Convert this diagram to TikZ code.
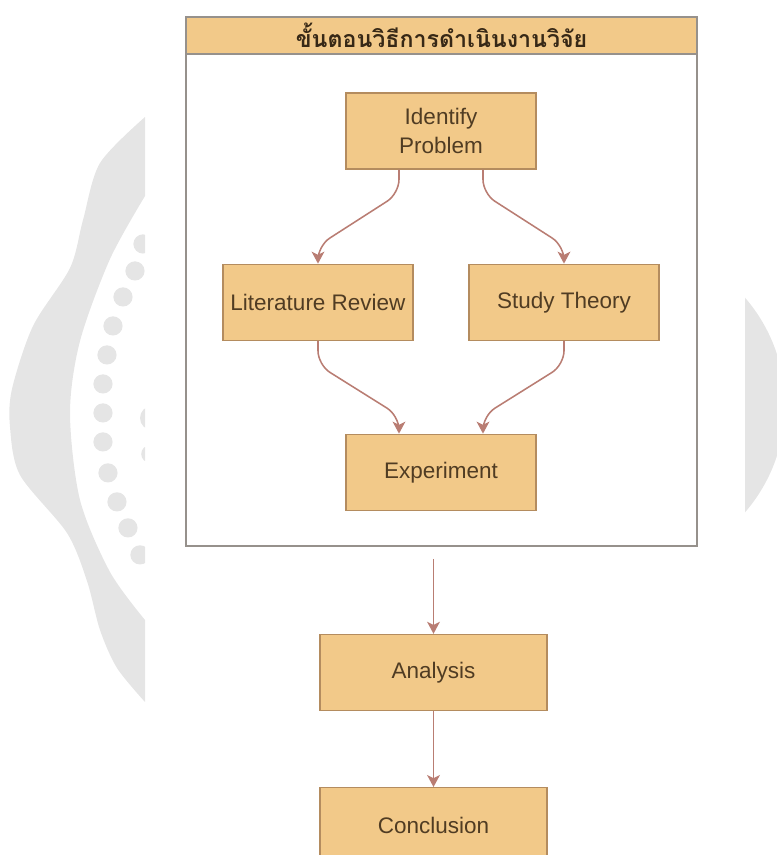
\documentclass[tikz,border=0pt]{standalone}
\usepackage{fontspec}
\setmainfont{Liberation Sans}
\newfontfamily\thaifont[Script=Thai]{Loma}
\usepackage{tikz}
\usetikzlibrary{positioning, arrows.meta}
\definecolor{boxfill}{RGB}{242,201,137}
\definecolor{boxline}{RGB}{180,140,95}
\definecolor{boxtext}{RGB}{80,60,35}
\definecolor{linkred}{RGB}{185,125,115}
\definecolor{framegray}{RGB}{150,145,140}
\definecolor{wmgray}{RGB}{229,229,229}
\tikzstyle{stepbox} = [draw=boxline, fill=boxfill, rectangle, minimum width=4.75cm, minimum height=1.9cm, align=center, text=boxtext, line width=0.9pt, font=\fontsize{16}{20}\selectfont]
\tikzstyle{groupframe} = [draw=framegray, rectangle, line width=1.1pt, minimum width=12.775cm, minimum height=13.225cm]
\tikzstyle{grouptitle} = [draw=framegray, fill=boxfill, rectangle, line width=1.1pt, minimum width=12.775cm, minimum height=0.925cm, text={rgb,255:red,55;green,40;blue,22}, font=\thaifont\bfseries\fontsize{16.5}{19}\selectfont]
\tikzstyle{arrow} = [line width=1.1pt, linkred, -{Stealth[length=0.3cm, width=0.32cm, inset=0.08cm]}, rounded corners=0.35cm]

\begin{document}
\begin{tikzpicture}
    \useasboundingbox (0,0) rectangle (19.425,-21.375);
    \begin{scope}
        \clip (0,0) rectangle (3.625,-21.375);
        \fill[wmgray, even odd rule] plot[smooth] coordinates {(3.625,-2.925) (2.5,-4.075) (2.075,-5.5) (1.75,-6.7) (0.825,-8.15) (0.3,-9.725) (0.25,-10.675) (0.5,-11.875) (1.675,-13.325) (2.175,-14.525) (2.5,-15.75) (2.925,-16.7) (3.625,-17.55)} -- (4,-17.55) -- (4,-2.925) -- cycle
            plot[smooth] coordinates {(3.625,-4.9) (2.75,-6.475) (2.0,-8.525) (1.75,-10.325) (2.0,-12.5) (2.75,-14.3) (3.625,-15.5)} -- (4,-15.5) -- (4,-4.9) -- cycle;
        \foreach \x/\y in {143/244, 135/271, 123/297, 113/326, 107/355, 103/384, 103/413, 103/442, 108/473, 117/502, 128/528, 140/555}
            \fill[wmgray] (\x*0.025,-\y*0.025) circle (0.24);
        \fill[wmgray] (3.8,-10.45) circle (0.3);
        \fill[wmgray] (3.75,-11.35) circle (0.22);
    \end{scope}
    \begin{scope}
        \clip (18.625,0) rectangle (19.425,-21.375);
        \fill[wmgray] (15.525,-10.125) circle (4.1);
    \end{scope}
    \node [groupframe] (grp) at (11.0375,-7.0375) {};
    \node [grouptitle, anchor=north] (head) at (grp.north) {ขั้นตอนวิธีการดำเนินงานวิจัย};
    \node [stepbox] (ident) at (11.025,-3.275) {Identify\\Problem};
    \node [stepbox, below=2.35cm of ident, xshift=-3.075cm] (review) {Literature Review};
    \node [stepbox, below=2.35cm of ident, xshift=3.075cm] (theory) {Study Theory};
    \node [stepbox, below=6.6cm of ident] (exper) {Experiment};
    \node [stepbox, minimum width=5.675cm, below=2.175cm of grp, xshift=-0.2cm] (analysis) {Analysis};
    \node [stepbox, minimum width=5.675cm, below=1.9cm of analysis] (concl) {Conclusion};
    \coordinate (grpout) at ([yshift=-0.3cm]grp.south -| analysis.north);
    \draw [arrow] ([xshift=-1.05cm]ident.south) -- ++(0,-0.6) -- ([yshift=0.45cm]review.north) -- (review.north);
    \draw [arrow] ([xshift=1.05cm]ident.south) -- ++(0,-0.6) -- ([yshift=0.45cm]theory.north) -- (theory.north);
    \draw [arrow] (review.south) -- ++(0,-0.6) -- ([xshift=-1.05cm, yshift=0.45cm]exper.north) -- ([xshift=-1.05cm]exper.north);
    \draw [arrow] (theory.south) -- ++(0,-0.6) -- ([xshift=1.05cm, yshift=0.45cm]exper.north) -- ([xshift=1.05cm]exper.north);
    \draw [arrow] (grpout) -- (analysis);
    \draw [arrow] (analysis) -- (concl);
\end{tikzpicture}
\end{document}
